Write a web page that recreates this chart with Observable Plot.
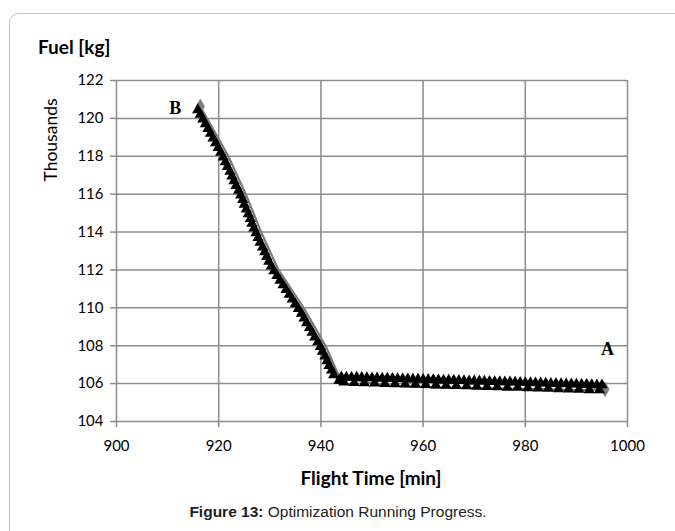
<!DOCTYPE html>
<html>
<head>
<meta charset="utf-8">
<script src="https://cdn.jsdelivr.net/npm/d3@7"></script>
<script src="https://cdn.jsdelivr.net/npm/@observablehq/plot@0.6"></script>
<style>
  html, body { margin: 0; padding: 0; background: #fff; }
  #wrap { position: relative; width: 675px; height: 531px; overflow: hidden; background: #fff; }
  #frame { position: absolute; left: 9px; top: 13px; width: 700px; height: 560px; border: 1px solid #c4c4c4; border-radius: 10px; box-sizing: border-box; }
  #chart { position: absolute; left: 0; top: 0; }
  .lbl { position: absolute; white-space: nowrap; color: #000; }
</style>
</head>
<body>
<div id="wrap">
  <div id="frame"></div>
  <div id="chart"></div>
  <div class="lbl" id="ytitle" style="left:38px; top:35px; font: bold 19px Lato, sans-serif;">Fuel [kg]</div>
  <div class="lbl" id="yunit" style="left:50px; top:140px; font: 17.5px Lato, sans-serif; transform: translate(-50%,-50%) rotate(-90deg);">Thousands</div>
  <div class="lbl" id="xtitle" style="left:371px; top:477px; font: bold 19px Lato, sans-serif; transform: translate(-50%,-50%);">Flight Time [min]</div>
  <div class="lbl" id="caption" style="left:338px; top:512px; font: 15.5px 'Liberation Sans', Arial, sans-serif; color:#222; transform: translate(-50%,-50%);"><b>Figure 13:</b> Optimization Running Progress.</div>
</div>
<script>
// Axis ticks
const xTicks = [900, 920, 940, 960, 980, 1000];
const yTicks = [104, 106, 108, 110, 112, 114, 116, 118, 120, 122];

// Gray reference line (flight time [min], fuel [thousand kg])
const grayX = [916.4, 921.8, 925.3, 928.3, 931.6, 936.5, 940.9, 943.6, 952, 962, 980, 990, 995.5];
const grayY = [120.63, 118.05, 116.0, 114.0, 112.05, 110.05, 108.0, 106.35, 105.92, 105.8, 105.72, 105.66, 105.7];

// End points of the run (diamonds)
const endX = [916.4, 995.6];
const endY = [120.63, 105.7];

// Optimization progress points (triangles)
const runX = [
  915.9, 916.4, 916.9, 917.4, 917.9, 918.4, 918.9, 919.4, 919.9, 920.4,
  920.9, 921.3, 921.7, 922.2, 922.6, 923.0, 923.4, 923.9,
  924.3, 924.7, 925.0, 925.4, 925.8, 926.2, 926.5, 926.9,
  927.3, 927.7, 928.1, 928.6, 929.0, 929.4, 929.8, 930.3,
  930.8, 931.4, 932.0, 932.6, 933.2, 933.8, 934.4, 935.0,
  935.6, 936.2, 936.7, 937.2, 937.8, 938.3, 938.8, 939.4,
  939.9, 940.3, 940.8, 941.2, 941.6, 942.1, 942.5,
  944, 945, 946, 947, 948, 949, 950, 951, 952, 953, 954, 955, 956, 957, 958, 959,
  960, 961, 962, 963, 964, 965, 966, 967, 968, 969, 970, 971, 972, 973, 974, 975,
  976, 977, 978, 979, 980, 981, 982, 983, 984, 985, 986, 987, 988, 989, 990, 991,
  992, 993, 994, 995,
  943.5, 944.5, 946.5, 948.5, 950.5, 952.5, 954.5, 956.5, 958.5, 960.5, 962.5, 964.5, 966.5, 968.5,
  970.5, 972.5, 974.5, 976.5, 978.5, 980.5, 982.5, 984.5, 986.5, 988.5, 990.5, 992.5, 994.5
];
const runY = [
  120.45, 120.20, 119.95, 119.70, 119.45, 119.20, 118.95, 118.70, 118.45, 118.20,
  117.95, 117.70, 117.45, 117.20, 116.95, 116.70, 116.45, 116.20,
  115.95, 115.70, 115.45, 115.20, 114.95, 114.70, 114.45, 114.20,
  113.95, 113.70, 113.45, 113.20, 112.95, 112.70, 112.45, 112.20,
  111.95, 111.70, 111.45, 111.20, 110.95, 110.70, 110.45, 110.20,
  109.95, 109.70, 109.45, 109.20, 108.95, 108.70, 108.45, 108.20,
  107.95, 107.70, 107.45, 107.20, 106.95, 106.70, 106.45,
  106.35, 106.34, 106.33, 106.33, 106.32, 106.31, 106.30, 106.29, 106.28, 106.28, 106.27, 106.26, 106.25, 106.24, 106.23, 106.23,
  106.22, 106.21, 106.20, 106.19, 106.18, 106.18, 106.17, 106.16, 106.15, 106.14, 106.13, 106.13, 106.12, 106.11, 106.10, 106.09,
  106.08, 106.08, 106.07, 106.06, 106.05, 106.04, 106.03, 106.03, 106.02, 106.01, 106.00, 105.99, 105.98, 105.98, 105.97, 105.96,
  105.95, 105.94, 105.93, 105.93,
  106.15, 106.07, 106.05, 106.03, 106.02, 106.00, 105.98, 105.97, 105.95, 105.94, 105.92, 105.90, 105.89, 105.87,
  105.85, 105.84, 105.82, 105.80, 105.79, 105.77, 105.75, 105.74, 105.72, 105.70, 105.69, 105.67, 105.66
];

// Point annotations
const noteText = ["B", "A"];
const noteX = [911.5, 996.1];
const noteY = [120.52, 107.8];

const gray = grayX.map((x, i) => ({x, y: grayY[i]}));
const ends = endX.map((x, i) => ({x, y: endY[i]}));
const run = runX.map((x, i) => ({x, y: runY[i]}));
const notes = noteText.map((t, i) => ({t, x: noteX[i], y: noteY[i]}));

const gridColor = "#8c8c8c";

const chart = Plot.plot({
  width: 675,
  height: 531,
  marginLeft: 116,
  marginRight: 48,
  marginTop: 80,
  marginBottom: 110,
  style: {fontFamily: "Lato, sans-serif", fontSize: "15px", color: "#000", background: "transparent"},
  x: {domain: [900, 1000]},
  y: {domain: [104, 122]},
  marks: [
    Plot.gridX(xTicks, {stroke: gridColor, strokeOpacity: 1, strokeWidth: 1.5}),
    Plot.gridY(yTicks, {stroke: gridColor, strokeOpacity: 1, strokeWidth: 1.5}),
    Plot.axisX(xTicks, {tickSize: 6, tickPadding: 13, tickFormat: d3.format("d"), stroke: gridColor, strokeWidth: 1.5, label: null, fill: "#000", fontSize: 15}),
    Plot.axisY(yTicks, {tickSize: 6, tickPadding: 7, tickFormat: d3.format("d"), stroke: gridColor, strokeWidth: 1.5, label: null, fill: "#000", fontSize: 15}),
    Plot.line(gray, {x: "x", y: "y", stroke: "#7a7a7a", strokeWidth: 2.2}),
    Plot.dot(ends, {x: "x", y: "y", symbol: "diamond", r: 4.8, fill: "#7f7f7f", stroke: "none"}),
    Plot.dot(run, {x: "x", y: "y", symbol: "triangle", r: 4.2, fill: "#000", stroke: "none"}),
    Plot.text(notes, {x: "x", y: "y", text: "t", fontFamily: "'Liberation Serif', serif", fontWeight: "bold", fontSize: 18, fill: "#000"})
  ]
});
document.getElementById("chart").appendChild(chart);
</script>
</body>
</html>
